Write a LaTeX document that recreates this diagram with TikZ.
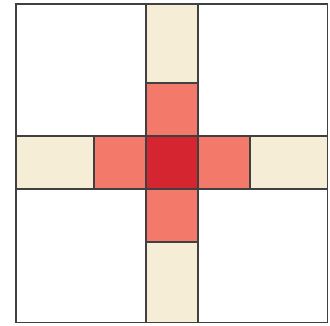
\documentclass[tikz,border=0pt]{standalone}
\usepackage{tikz}
\usetikzlibrary{positioning}
\definecolor{armbeige}{RGB}{246,237,214}
\definecolor{nearsalmon}{RGB}{243,122,106}
\definecolor{hotred}{RGB}{212,37,48}
\definecolor{edgegray}{RGB}{64,64,64}
\tikzset{
  cell/.style  ={draw=edgegray, line width=1.1pt, inner sep=0pt, outer sep=0pt,
                 minimum width=52pt, minimum height=53pt},
  arm/.style   ={cell, fill=armbeige},
  near/.style  ={cell, fill=nearsalmon},
  hot/.style   ={cell, fill=hotred},
  frame/.style ={draw=edgegray, line width=1.3pt, inner sep=0pt, outer sep=0pt,
                 minimum width=311.5pt, minimum height=318.5pt},
}
\begin{document}
\begin{tikzpicture}[x=1pt, y=-1pt]
  \useasboundingbox (0,0) rectangle (330,326);
  \node[frame] (F) at (171.75,163.25) {};
  % centre and its four neighbours
  \node[hot] (C) at (172,162.5) {};
  \node[near, above=0pt of C] (N) {};
  \node[near, below=0pt of C] (S) {};
  \node[near, left=0pt of C]  (W) {};
  \node[near, right=0pt of C] (E) {};
  % outer arms up to the frame
  \node[arm, minimum height=79pt,   above=0pt of N] (NN) {};
  \node[arm, minimum height=80.5pt, below=0pt of S] (SS) {};
  \node[arm, minimum width=78pt,    left=0pt of W]  (WW) {};
  \node[arm, minimum width=77.5pt,  right=0pt of E] (EE) {};
\end{tikzpicture}
\end{document}
